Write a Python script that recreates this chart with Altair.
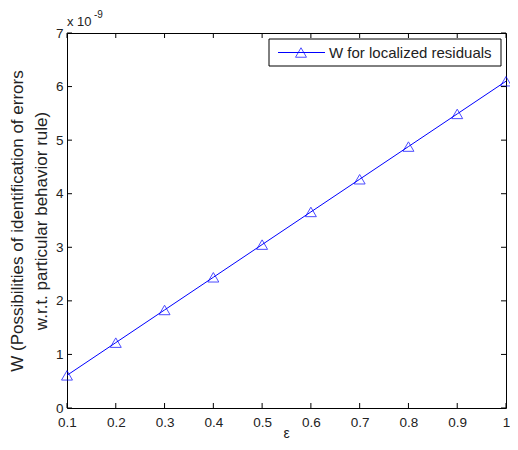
import altair as alt
import pandas as pd

# data (W in units of 1e-9)
eps = [0.1, 0.2, 0.3, 0.4, 0.5, 0.6, 0.7, 0.8, 0.9, 1.0]
W = [0.61, 1.22, 1.83, 2.44, 3.05, 3.66, 4.27, 4.88, 5.49, 6.10]
x_ticks = [0.1, 0.2, 0.3, 0.4, 0.5, 0.6, 0.7, 0.8, 0.9, 1.0]
y_ticks = [0, 1, 2, 3, 4, 5, 6, 7]
series_name = "W for localized residuals"
x_title = "ε"

FONT = "Liberation Sans"
BLUE = "#0000ff"
TXT = "#222222"
PW, PH = 439, 375
MS = 120  # marker size

df = pd.DataFrame({"eps": eps, "W": W})
xs = alt.Scale(domain=[0.1, 1.0], nice=False, zero=False)
ys = alt.Scale(domain=[0, 7], nice=False)

base = alt.Chart(df)
line = base.mark_line(color=BLUE, strokeWidth=1).encode(
    x=alt.X("eps:Q", scale=xs,
            axis=alt.Axis(values=x_ticks, format="~g", ticks=False, domain=False, grid=False,
                          labelPadding=7, labelFontSize=13.5, labelFont=FONT, labelColor=TXT,
                          title="", labelFlush=False)),
    y=alt.Y("W:Q", scale=ys,
            axis=alt.Axis(values=y_ticks, format="d", ticks=False, domain=False, grid=False,
                          labelPadding=4, labelFontSize=13.5, labelFont=FONT, labelColor=TXT,
                          title=["W (Possibilities of identification of errors",
                                 "w.r.t. particular behavior rule)"],
                          titleFont=FONT, titleFontSize=17, titleFontWeight="normal",
                          titleColor=TXT, titlePadding=5, titleLineHeight=24)),
)
pts = base.mark_point(shape="triangle-up", filled=False, color=BLUE, size=MS, strokeWidth=1).encode(
    x=alt.X("eps:Q", scale=xs), y=alt.Y("W:Q", scale=ys))

xt = alt.Chart(pd.DataFrame({"eps": x_ticks}))
yt = alt.Chart(pd.DataFrame({"W": y_ticks}))
tick_style = dict(color="black", strokeWidth=1)
xb = xt.mark_rule(**tick_style).encode(x=alt.X("eps:Q", scale=xs), y=alt.value(PH), y2=alt.value(PH - 5))
xtop = xt.mark_rule(**tick_style).encode(x=alt.X("eps:Q", scale=xs), y=alt.value(0), y2=alt.value(5))
yl = yt.mark_rule(**tick_style).encode(y=alt.Y("W:Q", scale=ys), x=alt.value(0), x2=alt.value(5))
yr = yt.mark_rule(**tick_style).encode(y=alt.Y("W:Q", scale=ys), x=alt.value(PW), x2=alt.value(PW - 5))

# x-axis title as a text mark so it stays inside the page
xtitle = alt.Chart(pd.DataFrame({"t": [x_title]})).mark_text(
    align="center", baseline="middle", font=FONT, fontSize=14, color=TXT).encode(
    text="t:N", x=alt.value(PW / 2), y=alt.value(PH + 26))

# exponent annotation
exp_base = alt.Chart(pd.DataFrame({"t": ["x 10"]})).mark_text(
    align="left", baseline="alphabetic", font=FONT, fontSize=13, color=TXT).encode(
    text="t:N", x=alt.value(0), y=alt.value(-7))
exp_sup = alt.Chart(pd.DataFrame({"t": ["-9"]})).mark_text(
    align="left", baseline="alphabetic", font=FONT, fontSize=10, color=TXT).encode(
    text="t:N", x=alt.value(27), y=alt.value(-15))

# legend (anchored to the right edge of the plot)
R = PW - 5
leg = pd.DataFrame({"t": [series_name]})
leg_box = alt.Chart(leg).mark_rect(fill="white", stroke="black", strokeWidth=1).encode(
    x=alt.value(R - 232), x2=alt.value(R), y=alt.value(6), y2=alt.value(33))
leg_line = alt.Chart(leg).mark_rule(color=BLUE, strokeWidth=1).encode(
    x=alt.value(R - 223), x2=alt.value(R - 176), y=alt.value(19.5))
leg_pt = alt.Chart(leg).mark_point(shape="triangle-up", filled=False, color=BLUE, size=MS,
                                   strokeWidth=1).encode(x=alt.value(R - 200), y=alt.value(19.5))
leg_txt = alt.Chart(leg).mark_text(align="left", baseline="middle", font=FONT, fontSize=15,
                                   color=TXT).encode(text="t:N", x=alt.value(R - 172), y=alt.value(20))

chart = alt.layer(line, pts, xb, xtop, yl, yr, xtitle, exp_base, exp_sup,
                  leg_box, leg_line, leg_pt, leg_txt).properties(
    width=PW, height=PH,
    autosize=alt.AutoSizeParams(type="none"),
    padding={"left": 59, "top": 25, "right": 4, "bottom": 34},
    background="white",
).configure_view(stroke="black", strokeWidth=1)

chart.save("out.html", embed_options={"renderer": "svg", "actions": False})
